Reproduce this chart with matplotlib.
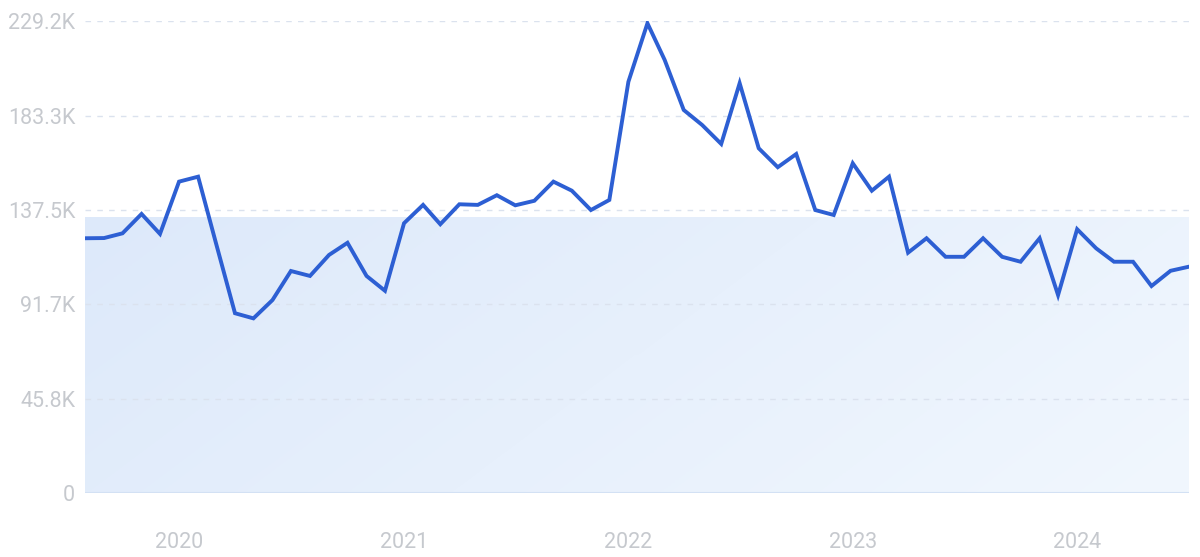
import numpy as np
import pandas as pd
import matplotlib
matplotlib.use("Agg")
import matplotlib.pyplot as plt
import matplotlib.dates as mdates
from matplotlib.colors import LinearSegmentedColormap
from matplotlib.ticker import FixedLocator, FixedFormatter

# monthly values, Aug 2019 .. Jul 2024
months = pd.date_range("2019-08-01", periods=60, freq="MS")
values = [
    123.7, 123.8, 126.1, 135.5, 125.8, 151.2, 153.6, 121.4, 87.3, 84.8,
    93.7, 107.8, 105.4, 115.6, 121.5, 105.4, 98.2, 131.0, 139.9, 130.5,
    140.2, 139.9, 144.6, 139.7, 141.9, 151.2, 146.8, 137.4, 142.3, 199.7,
    228.1, 210.3, 186.0, 178.7, 169.5, 199.0, 167.4, 158.2, 164.6, 137.4,
    135.0, 160.1, 146.8, 153.6, 116.7, 123.7, 114.7, 114.7, 123.7, 114.7,
    112.3, 123.7, 96.1, 128.1, 118.8, 112.3, 112.3, 100.5, 107.9, 109.9,
]
values = [v * 1000 for v in values]

band_level = 134000
y_ticks = [0, 45800, 91700, 137500, 183300, 229200]
y_labels = ["0", "45.8K", "91.7K", "137.5K", "183.3K", "229.2K"]
x_years = [2020, 2021, 2022, 2023, 2024]

W, H = 1200, 557
fig = plt.figure(figsize=(W / 100, H / 100), dpi=100)
ax = fig.add_axes([85 / W, (H - 493) / H, (1189 - 85) / W, (493 - 21) / H])

x = mdates.date2num(months)
x0, x1 = x[0], x[-1]
y_top = y_ticks[-1]

# shaded band with soft gradient
gx = np.linspace(0, 1, 300)
gy = np.linspace(0, 1, 100)
GX, GY = np.meshgrid(gx, gy)
grad = 0.75 * GX + 0.25 * (1 - GY)
cmap = LinearSegmentedColormap.from_list("band", ["#dde9fa", "#f1f7fe"])
ax.imshow(grad, extent=[x0, x1, 0, band_level], origin="lower",
          aspect="auto", cmap=cmap, zorder=0, interpolation="bilinear")

# grid lines
for t in y_ticks[1:]:
    ax.axhline(t, color="#dbe2ee", lw=1, dashes=(4, 4.5), zorder=1)
ax.axhline(0, color="#d3e1f4", lw=1.5, zorder=1)

ax.plot(x, values, color="#2d5fd3", lw=2.8, solid_joinstyle="miter", zorder=3)

ax.set_xlim(x0, x1)
ax.set_ylim(0, y_top)

for s in ax.spines.values():
    s.set_visible(False)

ax.yaxis.set_major_locator(FixedLocator(y_ticks))
ax.yaxis.set_major_formatter(FixedFormatter(y_labels))
year_pos = [mdates.date2num(pd.Timestamp(f"{yr}-01-01")) for yr in x_years]
ax.xaxis.set_major_locator(FixedLocator(year_pos))
ax.xaxis.set_major_formatter(FixedFormatter([str(yr) for yr in x_years]))

ax.tick_params(axis="both", length=0, labelcolor="#c6c9ce", labelsize=15.5)
ax.tick_params(axis="y", pad=7)
ax.tick_params(axis="x", pad=28)
for lbl in ax.get_xticklabels() + ax.get_yticklabels():
    lbl.set_fontfamily("Roboto")

fig.savefig("out.png", dpi=100, facecolor="white")
